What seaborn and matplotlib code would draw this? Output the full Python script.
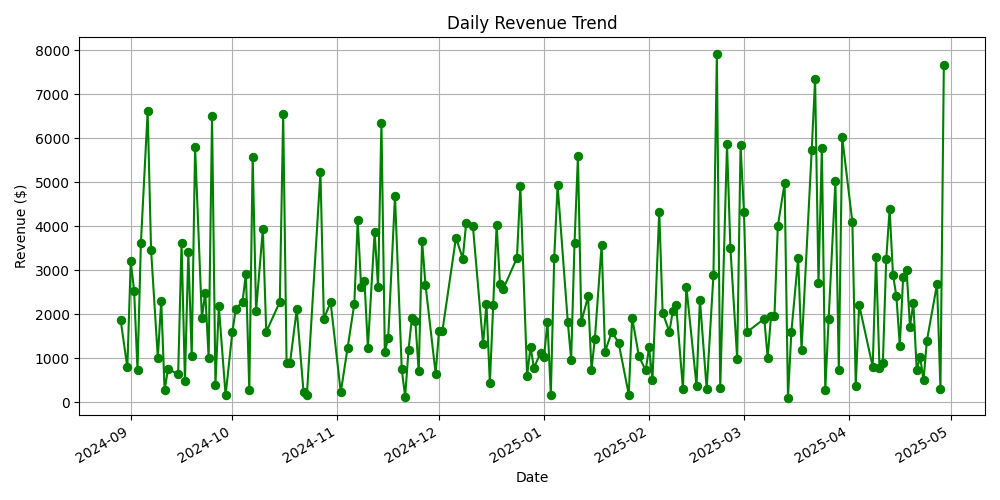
import matplotlib
matplotlib.use("Agg")
import matplotlib.pyplot as plt
import seaborn as sns
import pandas as pd

start_date = "2024-09-01"
day_offsets = [
    -3, -1, 0, 1, 2, 3, 5, 6, 8, 9, 10, 11, 14, 15, 16, 17, 18, 19, 21, 22,
    23, 24, 25, 26, 28, 30, 31, 33, 34, 35, 36, 37, 39, 40, 44, 45, 46, 47, 49, 51,
    52, 56, 57, 59, 62, 64, 66, 67, 68, 69, 70, 72, 73, 74, 75, 76, 78, 80, 81, 82,
    83, 84, 85, 86, 87, 90, 91, 92, 96, 98, 99, 101, 104, 105, 106, 107, 108, 109, 110, 114,
    115, 117, 118, 119, 121, 122, 123, 124, 125, 126, 129, 130, 131, 132, 133, 135, 136, 137, 139, 140,
    142, 144, 147, 148, 150, 152, 153, 154, 156, 157, 159, 160, 161, 163, 164, 167, 168, 170, 172, 173,
    174, 176, 177, 179, 180, 181, 182, 187, 188, 189, 190, 191, 193, 194, 195, 197, 198, 201, 202, 203,
    204, 205, 206, 208, 209, 210, 213, 214, 215, 219, 220, 221, 222, 223, 224, 225, 226, 227, 228, 229,
    230, 231, 232, 233, 234, 235, 238, 239, 240,
]
revenue = [
    1880, 790, 3200, 2540, 725, 3620, 6620, 3470, 1010, 2310, 270, 760, 635, 3630, 490, 3420, 1040, 5800, 1920, 2490,
    1010, 6500, 400, 2180, 160, 1600, 2120, 2290, 2925, 270, 5575, 2080, 3940, 1600, 2280, 6545, 885, 885, 2110, 240,
    175, 5230, 1900, 2270, 225, 1240, 2240, 4140, 2620, 2745, 1240, 3870, 2620, 6350, 1150, 1465, 4690, 745, 130, 1195,
    1925, 1850, 705, 3670, 2670, 650, 1625, 1625, 3740, 3265, 4065, 4005, 1315, 2240, 430, 2215, 4035, 2690, 2585, 3280,
    4920, 600, 1260, 785, 1125, 1035, 1830, 175, 3280, 4935, 1830, 970, 3630, 5600, 1830, 2405, 740, 1445, 3585, 1150,
    1600, 1355, 175, 1925, 1045, 725, 1245, 515, 4330, 2035, 1600, 2080, 2200, 295, 2630, 380, 2335, 295, 2895, 7905,
    315, 5865, 3510, 990, 5845, 4325, 1600, 1900, 1015, 1965, 1965, 4005, 4980, 105, 1600, 3280, 1195, 5730, 7340, 2715,
    5775, 270, 1900, 5025, 740, 6025, 4095, 380, 2215, 810, 3305, 785, 890, 3260, 4390, 2895, 2405, 1285, 2850, 3015,
    1715, 2260, 725, 1035, 500, 1400, 2690, 295, 7655,
]

df = pd.DataFrame({
    "Date": pd.to_datetime(start_date) + pd.to_timedelta(day_offsets, unit="D"),
    "Revenue": revenue,
})

fig, ax = plt.subplots(figsize=(10, 5), dpi=100)
sns.lineplot(data=df, x="Date", y="Revenue", ax=ax, color="green", marker="o",
             markersize=6, markeredgecolor="green", linewidth=1.5)
ax.set_title("Daily Revenue Trend")
ax.set_xlabel("Date")
ax.set_ylabel("Revenue ($)")
ax.grid(True)
fig.autofmt_xdate()
fig.tight_layout()
fig.savefig("out.png")
